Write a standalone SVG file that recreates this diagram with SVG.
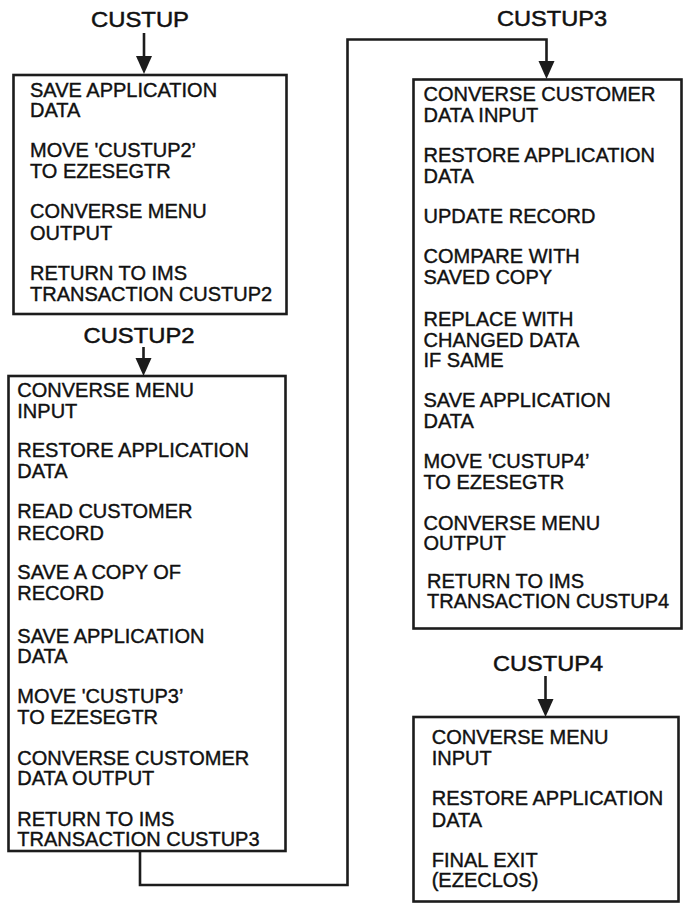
<svg xmlns="http://www.w3.org/2000/svg" width="683" height="905" viewBox="0 0 683 905">
  <style>
    .box { fill: #ffffff; stroke: #1c1c1c; stroke-width: 2.6; }
    .wire { fill: none; stroke: #1c1c1c; stroke-width: 2.6; }
    .head { fill: #1c1c1c; }
    .title { font-family: "Liberation Sans", Arial, sans-serif; font-size: 22px; fill: #111; stroke: #111; stroke-width: 0.5; text-anchor: middle; }
    .step { font-family: "Liberation Sans", Arial, sans-serif; font-size: 20px; fill: #111; stroke: #111; stroke-width: 0.4; }
  </style>

  <rect width="683" height="905" fill="#ffffff"/>

  <!-- connectors: entry arrows and the long return path into CUSTUP3 -->
  <g id="connectors">
    <line class="wire" x1="144" y1="33" x2="144" y2="56"/>
    <path class="head" d="M136,56 L152,56 L144,74 Z"/>
    <line class="wire" x1="143.5" y1="347" x2="143.5" y2="358"/>
    <path class="head" d="M135.5,358 L151.5,358 L143.5,376 Z"/>
    <path class="wire" d="M140,851 V885 H347.5 V39.5 H546.5 V61"/>
    <path class="head" d="M538.5,61 L554.5,61 L546.5,79 Z"/>
    <line class="wire" x1="545.5" y1="676" x2="545.5" y2="699"/>
    <path class="head" d="M537.5,699 L553.5,699 L545.5,717 Z"/>
  </g>

  <!-- CUSTUP -->
  <g id="custup">
    <text class="title" x="140" y="27" textLength="98" lengthAdjust="spacingAndGlyphs">CUSTUP</text>
    <rect class="box" x="13.5" y="75" width="273" height="239"/>
    <text class="step" x="30" y="96.7">SAVE APPLICATION</text>
    <text class="step" x="30" y="117.3">DATA</text>
    <text class="step" x="30" y="156.7">MOVE 'CUSTUP2’</text>
    <text class="step" x="30" y="178.3">TO EZESEGTR</text>
    <text class="step" x="30" y="218.3">CONVERSE MENU</text>
    <text class="step" x="30" y="240">OUTPUT</text>
    <text class="step" x="30" y="280">RETURN TO IMS</text>
    <text class="step" x="30" y="301">TRANSACTION CUSTUP2</text>
  </g>

  <!-- CUSTUP2 -->
  <g id="custup2">
    <text class="title" x="139" y="342.7" textLength="111" lengthAdjust="spacingAndGlyphs">CUSTUP2</text>
    <rect class="box" x="8.5" y="376" width="277" height="475"/>
    <text class="step" x="17.3" y="396.7">CONVERSE MENU</text>
    <text class="step" x="17.3" y="417.7">INPUT</text>
    <text class="step" x="17.3" y="456.7">RESTORE APPLICATION</text>
    <text class="step" x="17.3" y="478.3">DATA</text>
    <text class="step" x="17.3" y="518.3">READ CUSTOMER</text>
    <text class="step" x="17.3" y="540">RECORD</text>
    <text class="step" x="17.3" y="579">SAVE A COPY OF</text>
    <text class="step" x="17.3" y="600">RECORD</text>
    <text class="step" x="17.3" y="642.7">SAVE APPLICATION</text>
    <text class="step" x="17.3" y="663.3">DATA</text>
    <text class="step" x="17.3" y="703.3">MOVE 'CUSTUP3’</text>
    <text class="step" x="17.3" y="724">TO EZESEGTR</text>
    <text class="step" x="17.3" y="765">CONVERSE CUSTOMER</text>
    <text class="step" x="17.3" y="785">DATA OUTPUT</text>
    <text class="step" x="17.3" y="825.7">RETURN TO IMS</text>
    <text class="step" x="17.3" y="846">TRANSACTION CUSTUP3</text>
  </g>

  <!-- CUSTUP3 -->
  <g id="custup3">
    <text class="title" x="552" y="26" textLength="110" lengthAdjust="spacingAndGlyphs">CUSTUP3</text>
    <rect class="box" x="413.5" y="79.5" width="268" height="549"/>
    <text class="step" x="423.5" y="100.7">CONVERSE CUSTOMER</text>
    <text class="step" x="423.5" y="121.7">DATA INPUT</text>
    <text class="step" x="423.5" y="161.7">RESTORE APPLICATION</text>
    <text class="step" x="423.5" y="183.3">DATA</text>
    <text class="step" x="423.5" y="223.3">UPDATE RECORD</text>
    <text class="step" x="423.5" y="263.3">COMPARE WITH</text>
    <text class="step" x="423.5" y="284">SAVED COPY</text>
    <text class="step" x="423.5" y="326">REPLACE WITH</text>
    <text class="step" x="423.5" y="346.7">CHANGED DATA</text>
    <text class="step" x="423.5" y="366.7">IF SAME</text>
    <text class="step" x="423.5" y="406.7">SAVE APPLICATION</text>
    <text class="step" x="423.5" y="428.3">DATA</text>
    <text class="step" x="423.5" y="468.3">MOVE 'CUSTUP4’</text>
    <text class="step" x="423.5" y="489.3">TO EZESEGTR</text>
    <text class="step" x="423.5" y="530">CONVERSE MENU</text>
    <text class="step" x="423.5" y="550">OUTPUT</text>
    <text class="step" x="427" y="588.3">RETURN TO IMS</text>
    <text class="step" x="427" y="608.3">TRANSACTION CUSTUP4</text>
  </g>

  <!-- CUSTUP4 -->
  <g id="custup4">
    <text class="title" x="548" y="670.7" textLength="110" lengthAdjust="spacingAndGlyphs">CUSTUP4</text>
    <rect class="box" x="413.5" y="717" width="265" height="184.5"/>
    <text class="step" x="431.7" y="744">CONVERSE MENU</text>
    <text class="step" x="431.7" y="765">INPUT</text>
    <text class="step" x="431.7" y="805">RESTORE APPLICATION</text>
    <text class="step" x="431.7" y="826.5">DATA</text>
    <text class="step" x="431.7" y="866.7">FINAL EXIT</text>
    <text class="step" x="431.7" y="887">(EZECLOS)</text>
  </g>
</svg>
